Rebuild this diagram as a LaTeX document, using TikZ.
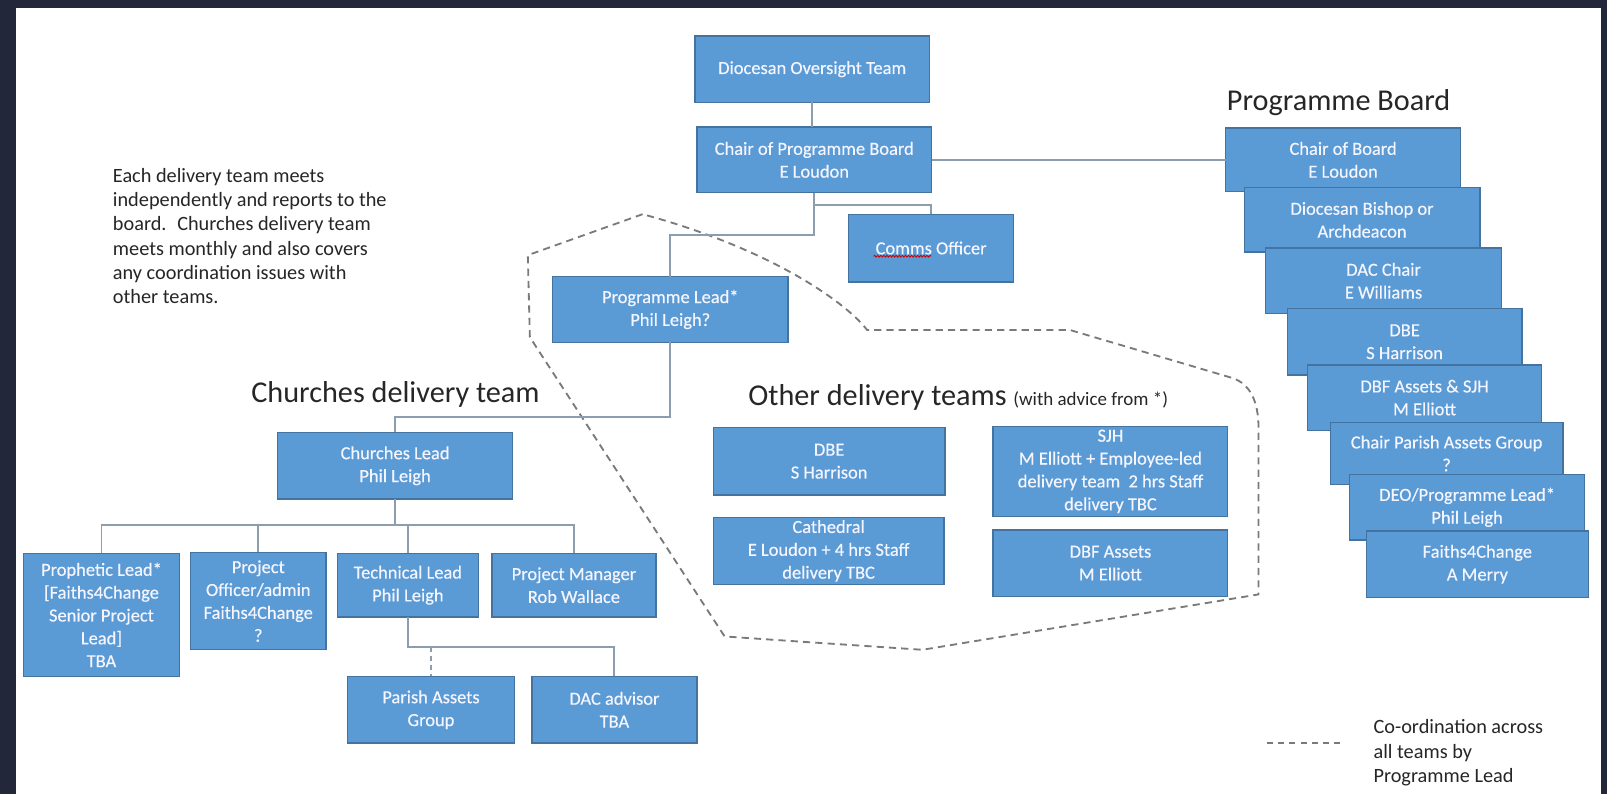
\documentclass[tikz,border=0pt]{standalone}
\usepackage{fontspec}
\setmainfont{Carlito}
\newfontfamily\boxfont{Carlito}[FakeBold=0.4]
\usetikzlibrary{decorations.pathmorphing}
\definecolor{bgdark}{HTML}{222839}
\definecolor{boxfill}{HTML}{5B9BD5}
\definecolor{boxedge}{HTML}{45739F}
\definecolor{conn}{HTML}{8C9DAD}
\definecolor{dashc}{HTML}{7A7A7A}
\definecolor{txt}{HTML}{262626}
\newcommand\orgnode[6]{\node[orgbox, minimum width={#4-#2}, minimum height={#5-#3}] (#1) at ({(#2+#4)/2},{(#3+#5)/2}) {#6};}
\begin{document}
\begin{tikzpicture}[x=1pt,y=-1pt,
  orgbox/.style={draw=boxedge, fill=boxfill, line width=1.3pt, text=white!96!blue,
    font=\boxfont\fontsize{18}{22.3}\selectfont, align=center, inner sep=0pt, outer sep=0pt},
  link/.style={draw=conn, line width=1.8pt},
  linkdash/.style={draw=conn, line width=1.8pt, dash pattern=on 5pt off 4pt},
  coordline/.style={draw=dashc, line width=1.8pt, dash pattern=on 7pt off 5pt},
  titletext/.style={text=txt, font=\fontsize{29.5}{35}\selectfont, inner sep=0pt, anchor=west},
  notetext/.style={text=txt, font=\fontsize{19.8}{23.7}\selectfont, inner sep=0pt, align=left, anchor=north west}]
% background
\fill[bgdark] (0,0) rectangle (1568,775);
\fill[white] (15.5,8) rectangle (1562,775);
\useasboundingbox (0,0) rectangle (1568,775);

% coordination boundary
\draw[coordline, line join=round] (627,209) -- (515,249) -- (517,329) -- (707,621) -- (780,626) -- (900,634) -- (1228,580) -- (1228,418)
  .. controls (1228,392) and (1220,375) .. (1203,369) -- (1044,322) -- (846,322)
  .. controls (830,300) and (760,245) .. cycle;

% main hierarchy
\orgnode{dot}{678}{35}{907}{100}{Diocesan Oversight Team}
\orgnode{chair}{680}{124}{909}{188}{Chair of Programme Board\\E Loudon}
\orgnode{comms}{828}{209}{989}{275}{Comms Officer}
\orgnode{plead}{539}{270}{769}{334}{Programme Lead*\\Phil Leigh?}
\orgnode{clead}{271}{422}{500}{487}{Churches Lead\\Phil Leigh}
\orgnode{proph}{23}{540}{175}{660}{Prophetic Lead*\\{[}Faiths4Change\\Senior Project\\Lead{]}\\TBA}
\orgnode{poff}{186}{539}{318}{634}{Project\\Officer/admin\\Faiths4Change\\?}
\orgnode{tech}{329}{540}{467}{602}{Technical Lead\\Phil Leigh}
\orgnode{pm}{480}{540}{640}{602}{Project Manager\\Rob Wallace}
\orgnode{pag}{339}{660}{502}{725}{Parish Assets\\Group}
\orgnode{dac}{519}{660}{680}{725}{DAC advisor\\TBA}
\orgnode{odbe}{696}{417}{922}{483}{DBE\\S Harrison}
\orgnode{cath}{696}{505}{921}{570}{Cathedral\\E Loudon + 4 hrs Staff\\delivery TBC}
\orgnode{sjh}{969}{416}{1198}{504}{SJH\\M Elliott + Employee-led\\delivery team~~2 hrs Staff\\delivery TBC}
\orgnode{dbf}{969}{517}{1198}{582}{DBF Assets\\M Elliott}

% programme board stack
\orgnode{b1}{1196}{125}{1425}{187}{Chair of Board\\E Loudon}
\orgnode{b2}{1214}{183}{1444}{246}{Diocesan Bishop or\\Archdeacon}
\orgnode{b3}{1235}{242}{1465}{306}{DAC Chair\\E Williams}
\orgnode{b4}{1256}{301}{1485}{366}{DBE\\S Harrison}
\orgnode{b5}{1276}{356}{1504}{420}{DBF Assets \& SJH\\M Elliott}
\orgnode{b6}{1298}{412}{1525}{473}{Chair Parish Assets Group\\?}
\orgnode{b7}{1317}{463}{1546}{527}{DEO/Programme Lead*\\Phil Leigh}
\orgnode{b8}{1333}{518}{1550}{583}{Faiths4Change\\A Merry}

% spell-check squiggle under "Comms"
\draw[red!80!black, line width=0.8pt, decorate, decoration={snake, amplitude=0.9pt, segment length=3pt}]
  ([shift={(-56,8)}]comms.center) -- ([shift={(0,8)}]comms.center);

% connectors
\draw[link] (dot.south) -- (dot.south |- chair.north);
\draw[link] (chair.east) -- (b1.west |- chair.east);
\draw[link] (chair.south) -- ++(0,12) -| (comms.north);
\draw[link] (chair.south) -- ++(0,41) -| (plead.north);
\draw[link] (plead.south) -- ++(0,73) -| (clead.north);
\draw[link] (clead.south) -- ++(0,25) -| (proph.north);
\draw[link] (clead.south) -- ++(0,25) -| (poff.north);
\draw[link] (clead.south) -- ++(0,25) -| (tech.north);
\draw[link] (clead.south) -- ++(0,25) -| (pm.north);
\draw[link] (tech.south) -- ++(0,29) coordinate (tbar) -| (dac.north);
\draw[linkdash] (tbar -| pag.north) -- (pag.north);

% titles and notes
\node[titletext] (pbtitle) at (1197,100) {Programme Board};
\node[titletext] (cdtitle) at (245,385) {Churches delivery team};
\node[titletext] (odtitle) at (730,388) {Other delivery teams {\fontsize{18.5}{22}\selectfont (with advice from *)}};
\node[notetext] (note) at (110,164) {Each delivery team meets\\independently and reports to the\\board.~ Churches delivery team\\meets monthly and also covers\\any coordination issues with\\other teams.};

% legend
\coordinate (lg1) at (1236,725);
\coordinate (lg2) at (1307,725);
\draw[coordline, dash pattern=on 6pt off 5pt] (lg1) -- (lg2);
\node[notetext] (legend) at (1340,702) {Co-ordination across\\all teams by\\Programme Lead};
\end{tikzpicture}
\end{document}
